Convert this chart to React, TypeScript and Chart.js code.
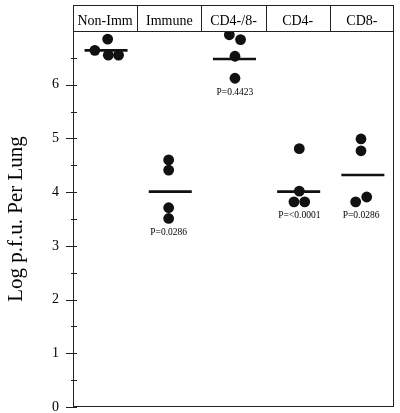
import React, { useEffect, useRef } from 'react';
import { Chart, registerables } from 'chart.js';

Chart.register(...registerables);

const categories = ['Non-Imm', 'Immune', 'CD4-/8-', 'CD4-', 'CD8-'];
const nonImmValues = [6.85, 6.64, 6.55, 6.55];
const immuneValues = [4.6, 4.41, 3.71, 3.51];
const cd48Values = [6.93, 6.84, 6.53, 6.12];
const cd4Values = [4.81, 4.02, 3.82, 3.82];
const cd8Values = [4.99, 4.77, 3.91, 3.82];
const meanValues = [6.64, 4.01, 6.48, 4.01, 4.32];
const pLabels = ['', 'P=0.0286', 'P=0.4423', 'P=<0.0001', 'P=0.0286'];
const yTickLabels = ['0', '1', '2', '3', '4', '5', '6'];
const yTitle = 'Log p.f.u. Per Lung';

// horizontal jitter (in category units) so that overlapping dots stay visible
const jitter = [
  [0.04, -0.16, 0.05, 0.21],
  [-0.01, -0.01, -0.01, -0.01],
  [-0.065, 0.11, 0.023, 0.023],
  [0.025, 0.025, -0.058, 0.109],
  [-0.014, -0.014, 0.075, -0.097],
];

const groupValues = [nonImmValues, immuneValues, cd48Values, cd4Values, cd8Values];
const FONT = 'Liberation Serif';
const INK = '#111';

const framePlugin = {
  id: 'frame',
  afterDraw(chart: any) {
    const { ctx, chartArea } = chart;
    const x = chart.scales.x;
    const y = chart.scales.y;
    const { left, right, top, bottom } = chartArea;
    const headerH = 26;
    ctx.save();
    ctx.strokeStyle = '#222';
    ctx.lineWidth = 1;
    // outer frame incl. header
    ctx.strokeRect(left + 0.5, top - headerH + 0.5, right - left - 1, bottom - top + headerH - 1);
    // header bottom line
    ctx.beginPath();
    ctx.moveTo(left, top + 0.5);
    ctx.lineTo(right, top + 0.5);
    // dividers
    for (let i = 1; i < categories.length; i++) {
      const px = Math.round(x.getPixelForValue(i)) + 0.5;
      ctx.moveTo(px, top - headerH);
      ctx.lineTo(px, top);
    }
    ctx.stroke();
    // header labels
    ctx.fillStyle = '#000';
    ctx.font = `14px "${FONT}"`;
    ctx.textAlign = 'center';
    ctx.textBaseline = 'alphabetic';
    categories.forEach((c, i) => {
      ctx.fillText(c, x.getPixelForValue(i + 0.5), top - 6);
    });
    // y ticks (crossing the axis)
    ctx.beginPath();
    y.ticks.forEach((t: any) => {
      if (t.value >= 7) return;
      const py = Math.round(y.getPixelForValue(t.value)) + 0.5;
      const major = Number.isInteger(t.value);
      ctx.moveTo(left - (major ? 7 : 2), py);
      ctx.lineTo(left + 4, py);
    });
    ctx.stroke();
    // p-value annotations
    ctx.font = `9.5px "${FONT}"`;
    ctx.textBaseline = 'middle';
    groupValues.forEach((vals, i) => {
      if (!pLabels[i]) return;
      const minV = Math.min(...vals);
      const meanX = vals.reduce((s, _v, k) => s + i + 0.5 + jitter[i][k], 0) / vals.length;
      ctx.fillText(pLabels[i], x.getPixelForValue(meanX), y.getPixelForValue(minV) + 14);
    });
    ctx.restore();
  },
};

export default function App() {
  const ref = useRef<HTMLCanvasElement>(null);
  useEffect(() => {
    if (!ref.current) return;
    const points: { x: number; y: number }[] = [];
    groupValues.forEach((vals, i) => {
      vals.forEach((v, k) => points.push({ x: i + 0.5 + jitter[i][k], y: v }));
    });
    const meanSets = meanValues.map((m, i) => ({
      type: 'line' as const,
      data: [
        { x: i + 0.18, y: m },
        { x: i + 0.85, y: m },
      ],
      borderColor: INK,
      borderWidth: 2.6,
      pointRadius: 0,
      fill: false,
    }));
    const chart = new Chart(ref.current, {
      type: 'scatter',
      data: {
        datasets: [
          ...meanSets,
          {
            type: 'scatter' as const,
            data: points,
            backgroundColor: INK,
            borderColor: INK,
            borderWidth: 0,
            pointRadius: 5.4,
          },
        ] as any,
      },
      options: {
        animation: false,
        responsive: false,
        devicePixelRatio: 1,
        layout: { padding: { top: 31, right: 6, bottom: 6, left: 0 } },
        plugins: { legend: { display: false }, tooltip: { enabled: false } },
        scales: {
          x: {
            type: 'linear',
            min: 0,
            max: 5,
            ticks: { display: false },
            grid: { display: false, drawTicks: false },
            border: { display: false },
            afterFit: (s: any) => {
              s.height = 0;
              s.paddingLeft = 0;
              s.paddingRight = 0;
            },
          },
          y: {
            type: 'linear',
            min: 0,
            max: 7,
            ticks: {
              stepSize: 0.5,
              autoSkip: false,
              padding: 14,
              color: '#000',
              font: { family: FONT, size: 14 },
              callback: (v: any) => (yTickLabels.includes(String(v)) ? String(v) : ''),
            },
            grid: { display: false, drawTicks: false },
            border: { display: false },
            title: {
              display: true,
              text: yTitle,
              color: '#000',
              font: { family: FONT, size: 21 },
              padding: { top: 4, bottom: 0 },
            },
            afterFit: (s: any) => {
              s.width = 73;
              s.paddingTop = 0;
              s.paddingBottom = 0;
            },
          },
        },
      } as any,
      plugins: [framePlugin],
    });
    return () => chart.destroy();
  }, []);
  return (
    <div style={{ position: 'fixed', left: 0, top: 0, width: 400, height: 413, background: '#fff' }}>
      <canvas ref={ref} width={400} height={413} />
    </div>
  );
}
